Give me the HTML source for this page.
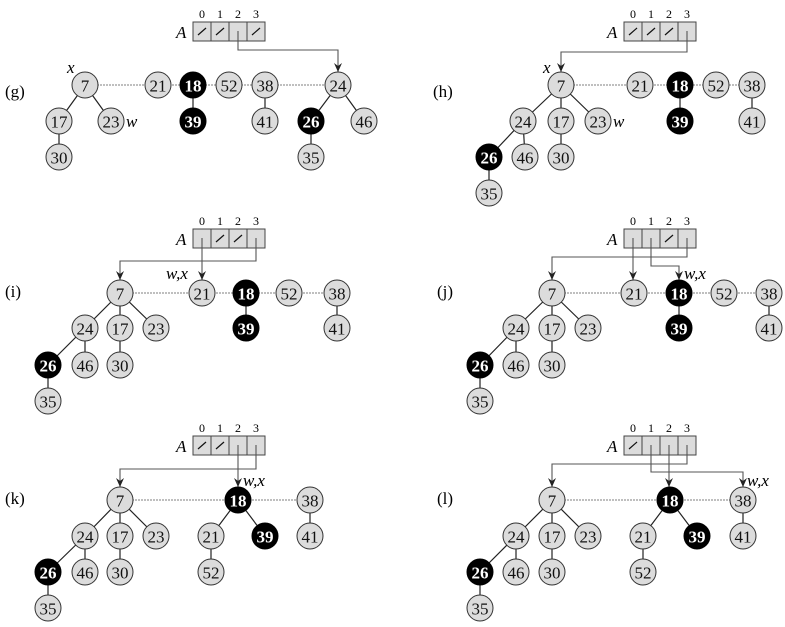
<!DOCTYPE html>
<html><head><meta charset="utf-8"><style>
html,body{margin:0;padding:0;background:#fff;}
svg{display:block;}
text{font-family:"Liberation Serif","Times New Roman",serif;}
.n circle{fill:#dcdcdc;stroke:#333;stroke-width:1;}
.n text{font-size:17px;fill:#111;text-anchor:middle;dominant-baseline:central;}
.b circle{fill:#000;stroke:#000;}
.b text{font-size:17px;fill:#fff;font-weight:bold;text-anchor:middle;dominant-baseline:central;}
.e{stroke:#222;stroke-width:1.2;}
.r{stroke:#aaa;stroke-width:1.5;stroke-dasharray:2,1;}
.a{fill:none;stroke:#555;stroke-width:1.1;marker-end:url(#ar);}
.cell{fill:#dcdcdc;stroke:#444;stroke-width:1;}
.sl{stroke:#111;stroke-width:1.2;}
.idx{font-size:12px;text-anchor:middle;}
.A{font-size:17px;font-style:italic;}
.it{font-size:17px;font-style:italic;}
.pl{font-size:17px;}
</style></head><body>
<svg width="785" height="627" viewBox="0 0 785 627" xmlns="http://www.w3.org/2000/svg">
<defs><marker id="ar" markerWidth="10" markerHeight="8" refX="9" refY="4" orient="auto" markerUnits="userSpaceOnUse" viewBox="0 0 10 8"><path d="M0,0 L9,4 L0,8 L3,4 Z" fill="#222"/></marker></defs>

<!-- (g) -->
<text class="pl" x="5" y="97">(g)</text>
<text class="A" x="176" y="38">A</text>
<rect class="cell" x="193" y="22" width="18" height="19"/><rect class="cell" x="211" y="22" width="18" height="19"/><rect class="cell" x="229" y="22" width="18" height="19"/><rect class="cell" x="247" y="22" width="18" height="19"/>
<text class="idx" x="202" y="18">0</text><text class="idx" x="220" y="18">1</text><text class="idx" x="238" y="18">2</text><text class="idx" x="256" y="18">3</text>
<line class="sl" x1="198" y1="35" x2="206" y2="28"/><line class="sl" x1="216" y1="35" x2="224" y2="28"/><line class="sl" x1="252" y1="35" x2="260" y2="28"/>
<path class="a" d="M238 31 V50 H338 V72"/>
<line class="r" x1="85" y1="85" x2="338" y2="85"/>
<line class="e" x1="85" y1="85" x2="59" y2="121"/><line class="e" x1="85" y1="85" x2="111" y2="121"/><line class="e" x1="59" y1="121" x2="59" y2="157"/>
<line class="e" x1="193" y1="85" x2="193" y2="121"/><line class="e" x1="265" y1="85" x2="265" y2="121"/>
<line class="e" x1="338" y1="85" x2="311" y2="121"/><line class="e" x1="338" y1="85" x2="364" y2="121"/><line class="e" x1="311" y1="121" x2="311" y2="157"/>
<g class="n"><circle cx="85" cy="85" r="13"/><text x="85" y="86">7</text></g>
<g class="n"><circle cx="158" cy="85" r="13"/><text x="158" y="86">21</text></g>
<g class="b"><circle cx="193" cy="85" r="13"/><text x="193" y="86">18</text></g>
<g class="n"><circle cx="229" cy="85" r="13"/><text x="229" y="86">52</text></g>
<g class="n"><circle cx="265" cy="85" r="13"/><text x="265" y="86">38</text></g>
<g class="n"><circle cx="338" cy="85" r="13"/><text x="338" y="86">24</text></g>
<g class="n"><circle cx="59" cy="121" r="13"/><text x="59" y="122">17</text></g>
<g class="n"><circle cx="111" cy="121" r="13"/><text x="111" y="122">23</text></g>
<g class="b"><circle cx="193" cy="121" r="13"/><text x="193" y="122">39</text></g>
<g class="n"><circle cx="265" cy="121" r="13"/><text x="265" y="122">41</text></g>
<g class="b"><circle cx="311" cy="121" r="13"/><text x="311" y="122">26</text></g>
<g class="n"><circle cx="364" cy="121" r="13"/><text x="364" y="122">46</text></g>
<g class="n"><circle cx="59" cy="157" r="13"/><text x="59" y="158">30</text></g>
<g class="n"><circle cx="311" cy="157" r="13"/><text x="311" y="158">35</text></g>
<text class="it" x="67" y="73">x</text><text class="it" x="126" y="127">w</text>

<!-- (h) -->
<text class="pl" x="433" y="97">(h)</text>
<text class="A" x="607" y="38">A</text>
<rect class="cell" x="624" y="22" width="18" height="19"/><rect class="cell" x="642" y="22" width="18" height="19"/><rect class="cell" x="660" y="22" width="18" height="19"/><rect class="cell" x="678" y="22" width="18" height="19"/>
<text class="idx" x="633" y="18">0</text><text class="idx" x="651" y="18">1</text><text class="idx" x="669" y="18">2</text><text class="idx" x="687" y="18">3</text>
<line class="sl" x1="629" y1="35" x2="637" y2="28"/><line class="sl" x1="647" y1="35" x2="655" y2="28"/><line class="sl" x1="665" y1="35" x2="673" y2="28"/>
<path class="a" d="M687 31 V52 H561 V72"/>
<line class="r" x1="561" y1="85" x2="752" y2="85"/>
<line class="e" x1="561" y1="85" x2="523" y2="121"/><line class="e" x1="561" y1="85" x2="561" y2="121"/><line class="e" x1="561" y1="85" x2="598" y2="121"/>
<line class="e" x1="523" y1="121" x2="489" y2="157"/><line class="e" x1="523" y1="121" x2="525" y2="157"/><line class="e" x1="561" y1="121" x2="561" y2="157"/><line class="e" x1="489" y1="157" x2="489" y2="193"/>
<line class="e" x1="680" y1="85" x2="680" y2="121"/><line class="e" x1="752" y1="85" x2="752" y2="121"/>
<g class="n"><circle cx="561" cy="85" r="13"/><text x="561" y="86">7</text></g>
<g class="n"><circle cx="640" cy="85" r="13"/><text x="640" y="86">21</text></g>
<g class="b"><circle cx="680" cy="85" r="13"/><text x="680" y="86">18</text></g>
<g class="n"><circle cx="716" cy="85" r="13"/><text x="716" y="86">52</text></g>
<g class="n"><circle cx="752" cy="85" r="13"/><text x="752" y="86">38</text></g>
<g class="n"><circle cx="523" cy="121" r="13"/><text x="523" y="122">24</text></g>
<g class="n"><circle cx="561" cy="121" r="13"/><text x="561" y="122">17</text></g>
<g class="n"><circle cx="598" cy="121" r="13"/><text x="598" y="122">23</text></g>
<g class="b"><circle cx="680" cy="121" r="13"/><text x="680" y="122">39</text></g>
<g class="n"><circle cx="752" cy="121" r="13"/><text x="752" y="122">41</text></g>
<g class="b"><circle cx="489" cy="157" r="13"/><text x="489" y="158">26</text></g>
<g class="n"><circle cx="525" cy="157" r="13"/><text x="525" y="158">46</text></g>
<g class="n"><circle cx="561" cy="157" r="13"/><text x="561" y="158">30</text></g>
<g class="n"><circle cx="489" cy="193" r="13"/><text x="489" y="194">35</text></g>
<text class="it" x="543" y="73">x</text><text class="it" x="613" y="127">w</text>

<!-- (i) -->
<text class="pl" x="5" y="297">(i)</text>
<text class="A" x="176" y="245">A</text>
<rect class="cell" x="193" y="229" width="18" height="19"/><rect class="cell" x="211" y="229" width="18" height="19"/><rect class="cell" x="229" y="229" width="18" height="19"/><rect class="cell" x="247" y="229" width="18" height="19"/>
<text class="idx" x="202" y="225">0</text><text class="idx" x="220" y="225">1</text><text class="idx" x="238" y="225">2</text><text class="idx" x="256" y="225">3</text>
<line class="sl" x1="216" y1="242" x2="224" y2="235"/><line class="sl" x1="234" y1="242" x2="242" y2="235"/>
<path class="a" d="M256 238 V261 H120 V280"/><path class="a" d="M202 238 V280"/>
<line class="r" x1="120" y1="293" x2="337" y2="293"/>
<line class="e" x1="120" y1="293" x2="85" y2="328"/><line class="e" x1="120" y1="293" x2="120" y2="328"/><line class="e" x1="120" y1="293" x2="156" y2="328"/>
<line class="e" x1="85" y1="328" x2="48" y2="365"/><line class="e" x1="85" y1="328" x2="85" y2="365"/><line class="e" x1="120" y1="328" x2="120" y2="365"/><line class="e" x1="48" y1="365" x2="48" y2="401"/>
<line class="e" x1="246" y1="293" x2="246" y2="328"/><line class="e" x1="337" y1="293" x2="337" y2="328"/>
<g class="n"><circle cx="120" cy="293" r="13"/><text x="120" y="294">7</text></g>
<g class="n"><circle cx="202" cy="293" r="13"/><text x="202" y="294">21</text></g>
<g class="b"><circle cx="246" cy="293" r="13"/><text x="246" y="294">18</text></g>
<g class="n"><circle cx="289" cy="293" r="13"/><text x="289" y="294">52</text></g>
<g class="n"><circle cx="337" cy="293" r="13"/><text x="337" y="294">38</text></g>
<g class="n"><circle cx="85" cy="328" r="13"/><text x="85" y="329">24</text></g>
<g class="n"><circle cx="120" cy="328" r="13"/><text x="120" y="329">17</text></g>
<g class="n"><circle cx="156" cy="328" r="13"/><text x="156" y="329">23</text></g>
<g class="b"><circle cx="246" cy="328" r="13"/><text x="246" y="329">39</text></g>
<g class="n"><circle cx="337" cy="328" r="13"/><text x="337" y="329">41</text></g>
<g class="b"><circle cx="48" cy="365" r="13"/><text x="48" y="366">26</text></g>
<g class="n"><circle cx="85" cy="365" r="13"/><text x="85" y="366">46</text></g>
<g class="n"><circle cx="120" cy="365" r="13"/><text x="120" y="366">30</text></g>
<g class="n"><circle cx="48" cy="401" r="13"/><text x="48" y="402">35</text></g>
<text class="it" x="166" y="279">w,x</text>

<!-- (j) -->
<text class="pl" x="437" y="297">(j)</text>
<text class="A" x="607" y="245">A</text>
<rect class="cell" x="624" y="229" width="18" height="19"/><rect class="cell" x="642" y="229" width="18" height="19"/><rect class="cell" x="660" y="229" width="18" height="19"/><rect class="cell" x="678" y="229" width="18" height="19"/>
<text class="idx" x="633" y="225">0</text><text class="idx" x="651" y="225">1</text><text class="idx" x="669" y="225">2</text><text class="idx" x="687" y="225">3</text>
<line class="sl" x1="665" y1="242" x2="673" y2="235"/>
<path class="a" d="M687 238 V257 H552 V280"/><path class="a" d="M633 238 V280"/><path class="a" d="M651 238 V266 H679 V280"/>
<line class="r" x1="552" y1="293" x2="769" y2="293"/>
<line class="e" x1="552" y1="293" x2="516" y2="328"/><line class="e" x1="552" y1="293" x2="552" y2="328"/><line class="e" x1="552" y1="293" x2="588" y2="328"/>
<line class="e" x1="516" y1="328" x2="480" y2="365"/><line class="e" x1="516" y1="328" x2="516" y2="365"/><line class="e" x1="552" y1="328" x2="552" y2="365"/><line class="e" x1="480" y1="365" x2="480" y2="401"/>
<line class="e" x1="679" y1="293" x2="679" y2="328"/><line class="e" x1="769" y1="293" x2="769" y2="328"/>
<g class="n"><circle cx="552" cy="293" r="13"/><text x="552" y="294">7</text></g>
<g class="n"><circle cx="634" cy="293" r="13"/><text x="634" y="294">21</text></g>
<g class="b"><circle cx="679" cy="293" r="13"/><text x="679" y="294">18</text></g>
<g class="n"><circle cx="724" cy="293" r="13"/><text x="724" y="294">52</text></g>
<g class="n"><circle cx="769" cy="293" r="13"/><text x="769" y="294">38</text></g>
<g class="n"><circle cx="516" cy="328" r="13"/><text x="516" y="329">24</text></g>
<g class="n"><circle cx="552" cy="328" r="13"/><text x="552" y="329">17</text></g>
<g class="n"><circle cx="588" cy="328" r="13"/><text x="588" y="329">23</text></g>
<g class="b"><circle cx="679" cy="328" r="13"/><text x="679" y="329">39</text></g>
<g class="n"><circle cx="769" cy="328" r="13"/><text x="769" y="329">41</text></g>
<g class="b"><circle cx="480" cy="365" r="13"/><text x="480" y="366">26</text></g>
<g class="n"><circle cx="516" cy="365" r="13"/><text x="516" y="366">46</text></g>
<g class="n"><circle cx="552" cy="365" r="13"/><text x="552" y="366">30</text></g>
<g class="n"><circle cx="480" cy="401" r="13"/><text x="480" y="402">35</text></g>
<text class="it" x="684" y="279">w,x</text>

<!-- (k) -->
<text class="pl" x="5" y="504">(k)</text>
<text class="A" x="176" y="452">A</text>
<rect class="cell" x="193" y="436" width="18" height="19"/><rect class="cell" x="211" y="436" width="18" height="19"/><rect class="cell" x="229" y="436" width="18" height="19"/><rect class="cell" x="247" y="436" width="18" height="19"/>
<text class="idx" x="202" y="432">0</text><text class="idx" x="220" y="432">1</text><text class="idx" x="238" y="432">2</text><text class="idx" x="256" y="432">3</text>
<line class="sl" x1="198" y1="449" x2="206" y2="442"/><line class="sl" x1="216" y1="449" x2="224" y2="442"/>
<path class="a" d="M256 445 V469 H120 V487"/><path class="a" d="M238 445 V487"/>
<line class="r" x1="120" y1="500" x2="310" y2="500"/>
<line class="e" x1="120" y1="500" x2="85" y2="536"/><line class="e" x1="120" y1="500" x2="120" y2="536"/><line class="e" x1="120" y1="500" x2="156" y2="536"/>
<line class="e" x1="85" y1="536" x2="48" y2="572"/><line class="e" x1="85" y1="536" x2="85" y2="572"/><line class="e" x1="120" y1="536" x2="120" y2="572"/><line class="e" x1="48" y1="572" x2="48" y2="608"/>
<line class="e" x1="238" y1="500" x2="211" y2="536"/><line class="e" x1="238" y1="500" x2="265" y2="536"/><line class="e" x1="211" y1="536" x2="211" y2="572"/><line class="e" x1="310" y1="500" x2="310" y2="536"/>
<g class="n"><circle cx="120" cy="500" r="13"/><text x="120" y="501">7</text></g>
<g class="b"><circle cx="238" cy="500" r="13"/><text x="238" y="501">18</text></g>
<g class="n"><circle cx="310" cy="500" r="13"/><text x="310" y="501">38</text></g>
<g class="n"><circle cx="85" cy="536" r="13"/><text x="85" y="537">24</text></g>
<g class="n"><circle cx="120" cy="536" r="13"/><text x="120" y="537">17</text></g>
<g class="n"><circle cx="156" cy="536" r="13"/><text x="156" y="537">23</text></g>
<g class="n"><circle cx="211" cy="536" r="13"/><text x="211" y="537">21</text></g>
<g class="b"><circle cx="265" cy="536" r="13"/><text x="265" y="537">39</text></g>
<g class="n"><circle cx="310" cy="536" r="13"/><text x="310" y="537">41</text></g>
<g class="b"><circle cx="48" cy="572" r="13"/><text x="48" y="573">26</text></g>
<g class="n"><circle cx="85" cy="572" r="13"/><text x="85" y="573">46</text></g>
<g class="n"><circle cx="120" cy="572" r="13"/><text x="120" y="573">30</text></g>
<g class="n"><circle cx="211" cy="572" r="13"/><text x="211" y="573">52</text></g>
<g class="n"><circle cx="48" cy="608" r="13"/><text x="48" y="609">35</text></g>
<text class="it" x="243" y="486">w,x</text>

<!-- (l) -->
<text class="pl" x="437" y="504">(l)</text>
<text class="A" x="607" y="452">A</text>
<rect class="cell" x="624" y="436" width="18" height="19"/><rect class="cell" x="642" y="436" width="18" height="19"/><rect class="cell" x="660" y="436" width="18" height="19"/><rect class="cell" x="678" y="436" width="18" height="19"/>
<text class="idx" x="633" y="432">0</text><text class="idx" x="651" y="432">1</text><text class="idx" x="669" y="432">2</text><text class="idx" x="687" y="432">3</text>
<line class="sl" x1="629" y1="449" x2="637" y2="442"/>
<path class="a" d="M687 445 V464 H552 V487"/><path class="a" d="M669 445 V487"/><path class="a" d="M651 445 V472 H743 V487"/>
<line class="r" x1="552" y1="500" x2="743" y2="500"/>
<line class="e" x1="552" y1="500" x2="516" y2="536"/><line class="e" x1="552" y1="500" x2="552" y2="536"/><line class="e" x1="552" y1="500" x2="588" y2="536"/>
<line class="e" x1="516" y1="536" x2="480" y2="572"/><line class="e" x1="516" y1="536" x2="516" y2="572"/><line class="e" x1="552" y1="536" x2="552" y2="572"/><line class="e" x1="480" y1="572" x2="480" y2="608"/>
<line class="e" x1="670" y1="500" x2="643" y2="536"/><line class="e" x1="670" y1="500" x2="697" y2="536"/><line class="e" x1="643" y1="536" x2="643" y2="572"/><line class="e" x1="743" y1="500" x2="743" y2="536"/>
<g class="n"><circle cx="552" cy="500" r="13"/><text x="552" y="501">7</text></g>
<g class="b"><circle cx="670" cy="500" r="13"/><text x="670" y="501">18</text></g>
<g class="n"><circle cx="743" cy="500" r="13"/><text x="743" y="501">38</text></g>
<g class="n"><circle cx="516" cy="536" r="13"/><text x="516" y="537">24</text></g>
<g class="n"><circle cx="552" cy="536" r="13"/><text x="552" y="537">17</text></g>
<g class="n"><circle cx="588" cy="536" r="13"/><text x="588" y="537">23</text></g>
<g class="n"><circle cx="643" cy="536" r="13"/><text x="643" y="537">21</text></g>
<g class="b"><circle cx="697" cy="536" r="13"/><text x="697" y="537">39</text></g>
<g class="n"><circle cx="743" cy="536" r="13"/><text x="743" y="537">41</text></g>
<g class="b"><circle cx="480" cy="572" r="13"/><text x="480" y="573">26</text></g>
<g class="n"><circle cx="516" cy="572" r="13"/><text x="516" y="573">46</text></g>
<g class="n"><circle cx="552" cy="572" r="13"/><text x="552" y="573">30</text></g>
<g class="n"><circle cx="643" cy="572" r="13"/><text x="643" y="573">52</text></g>
<g class="n"><circle cx="480" cy="608" r="13"/><text x="480" y="609">35</text></g>
<text class="it" x="747" y="486">w,x</text>
</svg>
</body></html>
